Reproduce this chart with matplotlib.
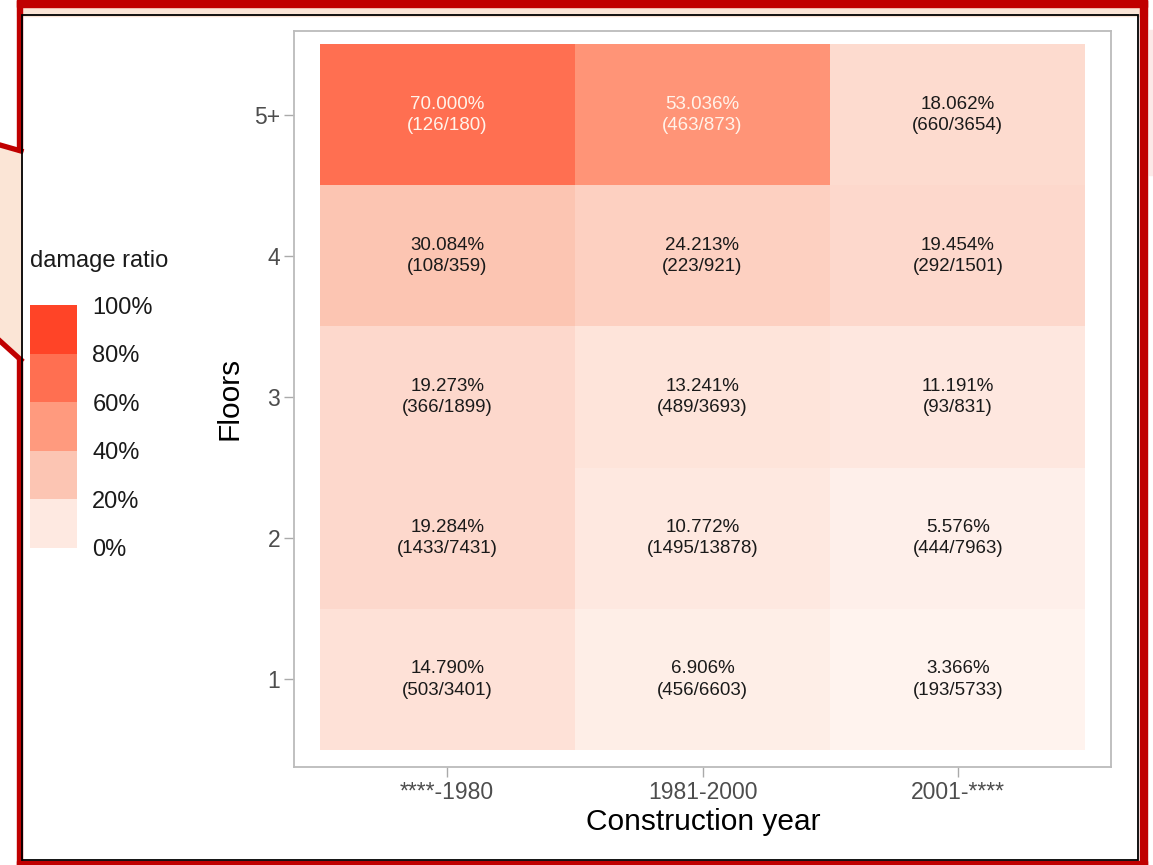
import numpy as np
import matplotlib
matplotlib.use("Agg")
import matplotlib.pyplot as plt
from matplotlib.colors import LinearSegmentedColormap, ListedColormap, BoundaryNorm
from matplotlib.patches import Rectangle, Polygon
from matplotlib.lines import Line2D
import matplotlib.cm as cm

plt.rcParams['font.family'] = ['Liberation Sans', 'DejaVu Sans']

# ---- data ----
years = ["****-1980", "1981-2000", "2001-****"]
floors = ["1", "2", "3", "4", "5+"]
damaged = [
    [503, 456, 193],
    [1433, 1495, 444],
    [366, 489, 93],
    [108, 223, 292],
    [126, 463, 660],
]
totals = [
    [3401, 6603, 5733],
    [7431, 13878, 7963],
    [1899, 3693, 831],
    [359, 921, 1501],
    [180, 873, 3654],
]
legend_breaks = [0.0, 0.2, 0.4, 0.6, 0.8, 1.0]
legend_labels = ["0%", "20%", "40%", "60%", "80%", "100%"]

W, H = 1153, 865
fig = plt.figure(figsize=(W / 100, H / 100), dpi=100)

def fx(x):
    return x / W

def fy(y):
    return 1 - y / H

# colour map
cmap = LinearSegmentedColormap.from_list("dmg", [
    (0.0, "#FFF7F4"), (0.1, "#FEE9E1"), (0.3, "#FCC5B3"), (0.5, "#FF9A7E"),
    (0.7, "#FF6F51"), (0.9, "#FF4427"), (1.0, "#FF3010")])

# ---- decorations (screenshot frame) ----
deco = []
deco.append(Rectangle((fx(17), fy(16)), fx(1147) - fx(17), fy(2) - fy(16),
                      transform=fig.transFigure, color="#FBE5D6", zorder=0))
deco.append(Polygon([(fx(0), fy(145)), (fx(22), fy(151)), (fx(22), fy(360)), (fx(0), fy(341))],
                    closed=True, transform=fig.transFigure, color="#FBE5D6", zorder=0))
deco.append(Rectangle((fx(1149), fy(175)), fx(1153) - fx(1149), fy(30) - fy(175),
                      transform=fig.transFigure, color="#FCE9E8", zorder=0))
for a in deco:
    fig.add_artist(a)
red = "#C00000"
reds = [
    ((17, 0), (1147, 7)),
    ((17, 0), (22, 151)),
    ((17, 358), (22, 865)),
    ((1140, 0), (1147, 865)),
    ((17, 861), (1147, 865)),
]
for (x0, y0), (x1, y1) in reds:
    fig.add_artist(Rectangle((fx(x0), fy(y1)), fx(x1) - fx(x0), fy(y0) - fy(y1),
                             transform=fig.transFigure, color=red, zorder=5))
fig.add_artist(Line2D([fx(0), fx(21)], [fy(145), fy(151)], transform=fig.transFigure,
                      color=red, lw=3.8, zorder=5))
fig.add_artist(Line2D([fx(0), fx(21)], [fy(341), fy(360)], transform=fig.transFigure,
                      color=red, lw=3.8, zorder=5))
fig.add_artist(Rectangle((fx(22), fy(860)), fx(1138) - fx(22), fy(15) - fy(860),
                         transform=fig.transFigure, fill=False, ec="black", lw=1.3, zorder=6))

# ---- heatmap ----
ax = fig.add_axes([fx(294), fy(767), fx(1111) - fx(294), fy(31) - fy(767)])
d = np.array(damaged, dtype=float)
t = np.array(totals, dtype=float)
ratio = d / t
xe = np.arange(len(years) + 1) + 0.5
ye = np.arange(len(floors) + 1) + 0.5
ax.pcolormesh(xe, ye, ratio, cmap=cmap, vmin=0, vmax=1, shading="flat")
for i in range(len(floors)):
    for j in range(len(years)):
        r = ratio[i, j]
        col = "#FFF3EA" if r > 0.5 else "#1A1A1A"
        ax.text(j + 1, i + 1, f"{r * 100:.3f}%\n({damaged[i][j]}/{totals[i][j]})",
                ha="center", va="center", fontsize=13.5, color=col, linespacing=1.32)
ax.set_xlim(0.4, 3.6)
ax.set_ylim(0.38, 5.592)
ax.set_xticks(np.arange(1, len(years) + 1))
ax.set_xticklabels(years)
ax.set_yticks(np.arange(1, len(floors) + 1))
ax.set_yticklabels(floors)
ax.tick_params(axis="both", colors="#AAAAAA", labelcolor="#4D4D4D", labelsize=16.5,
               length=7, width=1.0, pad=3)
for s in ax.spines.values():
    s.set_color("#BBBBBB")
    s.set_linewidth(1.3)
ax.set_facecolor("white")

fig.text(fx(703), fy(822), "Construction year", ha="center", va="center", fontsize=21.5, color="black")
fig.text(fx(230), fy(398), "Floors", ha="center", va="center", rotation=90, fontsize=21.5, color="black")

# ---- legend ----
fig.text(fx(30), fy(261), "damage ratio", ha="left", va="center", fontsize=17, color="#1A1A1A")
mids = [(legend_breaks[k] + legend_breaks[k + 1]) / 2 for k in range(len(legend_breaks) - 1)]
lcmap = ListedColormap([cmap(m) for m in mids])
norm = BoundaryNorm(legend_breaks, lcmap.N)
cax = fig.add_axes([fx(30), fy(548), fx(77) - fx(30), fy(305) - fy(548)])
cb = fig.colorbar(cm.ScalarMappable(norm=norm, cmap=lcmap), cax=cax, ticks=legend_breaks)
cb.set_ticklabels(legend_labels)
cb.outline.set_visible(False)
cax.tick_params(length=0, labelsize=17, labelcolor="#1A1A1A", pad=11)

fig.savefig("out.png", dpi=100)
